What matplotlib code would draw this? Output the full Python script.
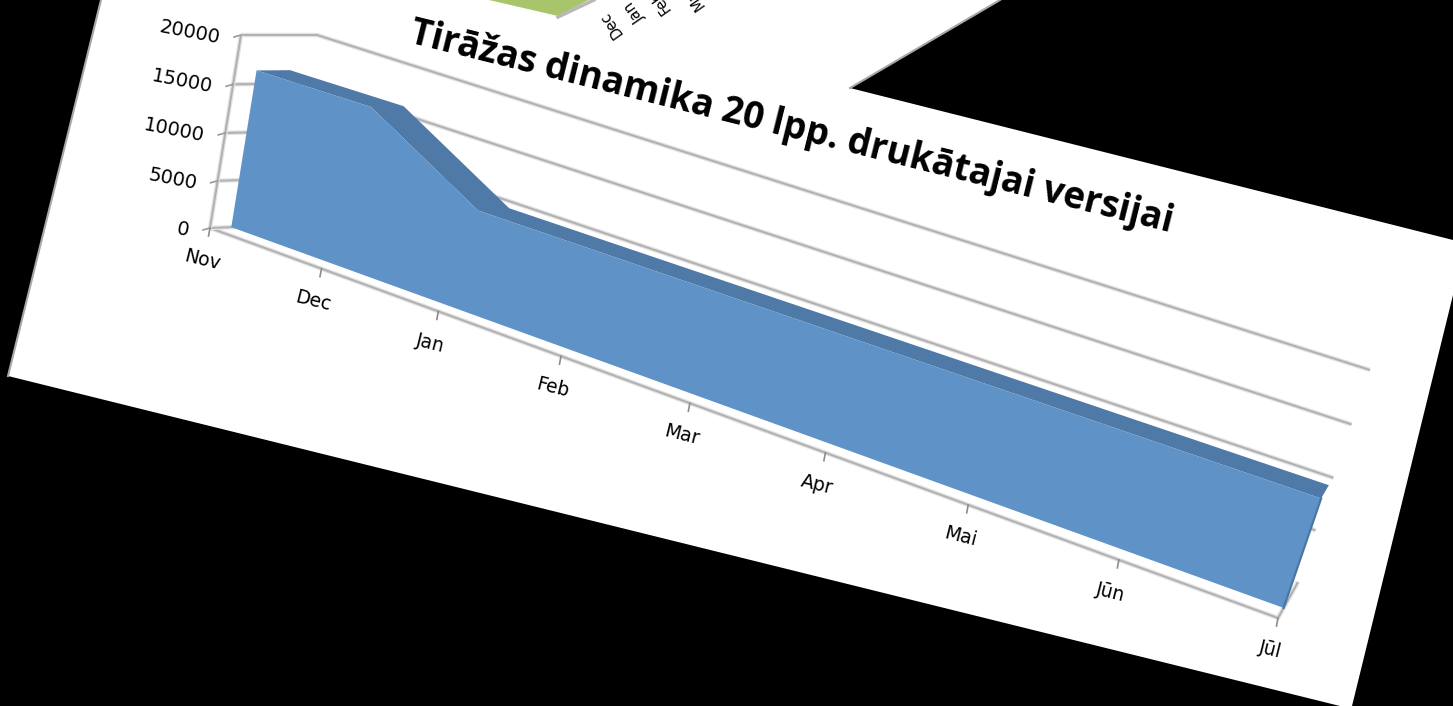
import numpy as np
import matplotlib
matplotlib.use("Agg")
import matplotlib.pyplot as plt
from matplotlib.patches import Polygon

months = ["Nov", "Dec", "Jan", "Feb", "Mar", "Apr", "Mai", "Jūn", "Jūl"]
values = [16400, 16500, 10100, 10100, 10100, 10100, 10100, 10100, 10100]
y_ticks = [0, 5000, 10000, 15000, 20000]
title = "Tirāžas dinamika 20 lpp. drukātajai versijai"
other_chart_labels = ["Dec", "Jan", "Feb", "Mar"]

W, H = 1453, 706
VMAX = y_ticks[-1]
LAST = len(months) - 1

# photographed page geometry
PAGE = [(101, 0), (1000, 0), (850, 88), (1453, 240), (1453, 295), (1352, 706), (1340, 706), (8, 376)]
PLANE_FRONT = [(210, 228), (241, 35), (1278, 618), (1355, 394)]
PLANE_BACK = [(286, 225), (317, 35), (1298, 582), (1370, 370)]
D_FRONT, D_BACK = 0.28, 0.72


def homography(c):
    src = [(0, 0), (0, 1), (1, 0), (1, 1)]
    A, b = [], []
    for (u, v), (x, y) in zip(src, c):
        A.append([u, v, 1, 0, 0, 0, -u * x, -v * x]); b.append(x)
        A.append([0, 0, 0, u, v, 1, -u * y, -v * y]); b.append(y)
    return np.append(np.linalg.solve(np.array(A, float), np.array(b, float)), 1).reshape(3, 3)


HF, HB = homography(PLANE_FRONT), homography(PLANE_BACK)


def proj(m, v, d):
    p = np.array([m / LAST, v / VMAX, 1.0])
    f, g = HF @ p, HB @ p
    return (1 - d) * f[:2] / f[2] + d * g[:2] / g[2]


def soft(ax, pts, z=2):
    pts = np.array(pts)
    ax.plot(pts[:, 0], pts[:, 1], color="#e2e2e2", lw=3.2, zorder=z, solid_capstyle="butt")
    ax.plot(pts[:, 0], pts[:, 1], color="#b0b0b0", lw=1.4, zorder=z, solid_capstyle="butt")


fig = plt.figure(figsize=(W / 100, H / 100), dpi=100, facecolor="black")
ax = fig.add_axes([0, 0, 1, 1])
ax.set_xlim(0, W)
ax.set_ylim(H, 0)
ax.axis("off")

ax.add_patch(Polygon(PAGE, closed=True, fc="white", ec="none", zorder=1))
ax.plot([PAGE[7][0], PAGE[0][0]], [PAGE[7][1], PAGE[0][1]], color="#a8a8a8", lw=1.5, zorder=1.5)
ax.plot([PAGE[1][0], PAGE[2][0]], [PAGE[1][1], PAGE[2][1]], color="#a8a8a8", lw=1.5, zorder=1.5)

# piece of the other chart at the top of the page
ax.add_patch(Polygon([(489, 0), (558, 16), (589, 0)], closed=True, fc="#a9c56b", ec="none", zorder=2))
ax.plot([558, 594], [17, 0], color="#b8b8b8", lw=2.5, zorder=3)
clip = Polygon([(590, 0), (730, 0), (730, 60), (590, 27)], closed=True, transform=ax.transData)
for lab, xy in zip(other_chart_labels, [(611, 24), (635, 12), (660, 1), (693, -4)]):
    t = ax.text(*xy, lab, rotation=125, fontsize=10.5, color="black", ha="center", va="center", zorder=3,
                clip_on=True)
    t.set_clip_path(clip)

# walls
for v in y_ticks[1:]:
    soft(ax, [proj(0, v, 0), proj(0, v, 1), proj(LAST, v, 1)])
soft(ax, [proj(0, 0, 0), proj(LAST, 0, 0), proj(LAST, 0, 1)])
soft(ax, [proj(0, 0, 0), proj(0, 0, 0.35)])
soft(ax, [proj(0, 0, 0), proj(0, VMAX, 0)])

# ticks and labels
for v in y_ticks:
    p = proj(0, v, 0)
    ax.plot([p[0], p[0] - 7], [p[1], p[1] + 2], color="#9a9a9a", lw=1.2, zorder=2)
    ax.text(p[0] - 21, p[1] + 3, f"{v}", rotation=-11, rotation_mode="anchor", ha="right", va="center",
            fontsize=14, color="black", zorder=4)
for i, m in enumerate(months):
    p = proj(i, 0, 0)
    ax.plot([p[0], p[0] - 1.5], [p[1], p[1] + 8], color="#8c8c8c", lw=1.2, zorder=2)
    ax.text(p[0] - 8, p[1] + 32, m, rotation=-14, rotation_mode="anchor", ha="center", va="center",
            fontsize=13.5, color="black", zorder=4)

# area: top face, then front face
xs = range(len(months))
top = [proj(i, values[i], D_FRONT) for i in xs] + [proj(i, values[i], D_BACK) for i in reversed(xs)]
ax.add_patch(Polygon(top, closed=True, fc="#4f79a7", ec="none", zorder=5))
front = [proj(0, 0, D_FRONT)] + [proj(i, values[i], D_FRONT) for i in xs] + [proj(LAST, 0, D_FRONT)]
ax.add_patch(Polygon(front, closed=True, fc="#5f93c8", ec="none", zorder=6))
edge = np.array([proj(LAST, 0, D_FRONT), proj(LAST, values[-1], D_FRONT)])
ax.plot(edge[:, 0], edge[:, 1], color="#4a76a4", lw=1.6, zorder=7)

ax.text(792, 128, title, rotation=-14.0, rotation_mode="anchor", ha="center", va="center",
        fontsize=26.5, fontweight="bold", family="Open Sans", color="black", zorder=8)

fig.savefig("out.png", dpi=100, facecolor="black")
